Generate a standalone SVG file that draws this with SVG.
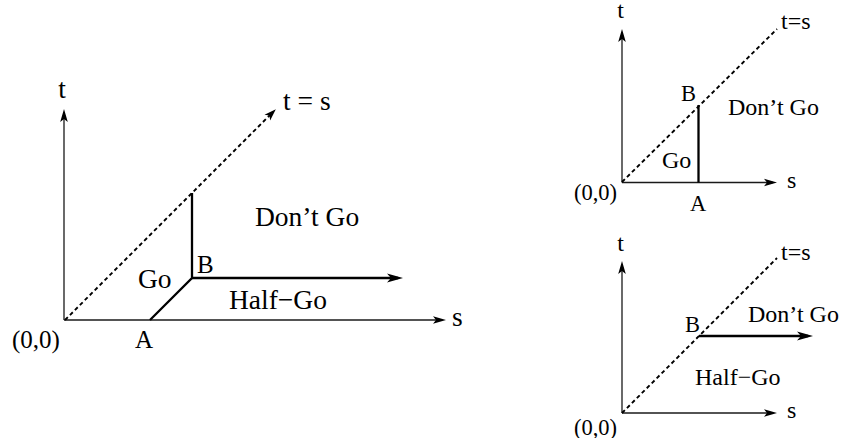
<svg xmlns="http://www.w3.org/2000/svg" width="843" height="438" viewBox="0 0 843 438">
<style>
  text { font-family: "Liberation Serif", "Times New Roman", serif; fill: #000; }
  .big { font-size: 27.5px; }
  .pt { font-size: 25px; }
  .rbig { font-size: 24px; }
  .rpt { font-size: 22.5px; }
  .axis { stroke: #1a1a1a; stroke-width: 1.3; fill: none; }
  .thick { stroke: #000; stroke-width: 2.3; fill: none; stroke-linejoin: miter; }
  .dot { stroke: #000; stroke-width: 1.9; fill: none; stroke-dasharray: 4 3; }
</style>
<defs>
  <marker id="ax" markerUnits="userSpaceOnUse" viewBox="-20 -10 20 20" refX="-4" refY="0" markerWidth="20" markerHeight="20" orient="auto" overflow="visible">
    <path d="M0,0 L-13,-3.8 L-10,0 L-13,3.8 Z" fill="#000"/>
  </marker>
  <marker id="th" markerUnits="userSpaceOnUse" viewBox="-20 -10 20 20" refX="-5" refY="0" markerWidth="20" markerHeight="20" orient="auto" overflow="visible">
    <path d="M0,0 L-16,-4.6 L-12,0 L-16,4.6 Z" fill="#000"/>
  </marker>
  <marker id="dt" markerUnits="userSpaceOnUse" viewBox="-20 -10 20 20" refX="-4" refY="0" markerWidth="20" markerHeight="20" orient="auto" overflow="visible">
    <path d="M0,0 L-12,-4 L-9,0 L-12,4 Z" fill="#000"/>
  </marker>
</defs>

<g id="connectors">
  <!-- left diagram -->
  <line class="axis" x1="64" y1="320" x2="64" y2="113" marker-end="url(#ax)"/>
  <line class="axis" x1="64" y1="320" x2="442" y2="320" marker-end="url(#ax)"/>
  <line class="dot" x1="65" y1="320" x2="273" y2="112" marker-end="url(#dt)"/>
  <polyline class="thick" points="150,320 192,278 192,193"/>
  <line class="thick" x1="192" y1="278" x2="398" y2="278" marker-end="url(#th)"/>
  <!-- top-right diagram -->
  <line class="axis" x1="622" y1="182.5" x2="622" y2="33" marker-end="url(#ax)"/>
  <line class="axis" x1="622" y1="182.5" x2="773" y2="182.5" marker-end="url(#ax)"/>
  <line class="dot" x1="622" y1="182" x2="777" y2="29"/>
  <line class="thick" x1="698.5" y1="105" x2="698.5" y2="182.5"/>
  <!-- bottom-right diagram -->
  <line class="axis" x1="622" y1="413" x2="622" y2="265" marker-end="url(#ax)"/>
  <line class="axis" x1="622" y1="413" x2="773" y2="413" marker-end="url(#ax)"/>
  <line class="dot" x1="622" y1="413" x2="777" y2="258"/>
  <line class="thick" x1="699" y1="336" x2="808" y2="336" marker-end="url(#th)"/>
</g>

<g id="left-diagram">
  <text class="big" x="62" y="98" text-anchor="middle">t</text>
  <text class="big" x="283" y="110">t = s</text>
  <text class="big" x="255" y="226">Don’t Go</text>
  <text class="big" x="229" y="309">Half−Go</text>
  <text class="big" x="138" y="288">Go</text>
  <text class="pt" x="197" y="273">B</text>
  <text class="pt" x="135" y="348">A</text>
  <text class="pt" x="12" y="348">(0,0)</text>
  <text class="big" x="452" y="326">s</text>
</g>

<g id="top-right-diagram">
  <text class="rbig" x="620.5" y="18" text-anchor="middle">t</text>
  <text class="rbig" x="781" y="29">t=s</text>
  <text class="rpt" x="681" y="101">B</text>
  <text class="rbig" x="728" y="115">Don’t Go</text>
  <text class="rbig" x="662" y="168">Go</text>
  <text class="rbig" x="787" y="188">s</text>
  <text class="rpt" x="574" y="200">(0,0)</text>
  <text class="rpt" x="690" y="211">A</text>
</g>

<g id="bottom-right-diagram">
  <text class="rbig" x="620.5" y="251" text-anchor="middle">t</text>
  <text class="rbig" x="781" y="260">t=s</text>
  <text class="rpt" x="685" y="332">B</text>
  <text class="rbig" x="748" y="322">Don’t Go</text>
  <text class="rbig" x="695" y="385">Half−Go</text>
  <text class="rbig" x="787" y="418">s</text>
  <text class="rpt" x="574" y="435">(0,0)</text>
</g>
</svg>
